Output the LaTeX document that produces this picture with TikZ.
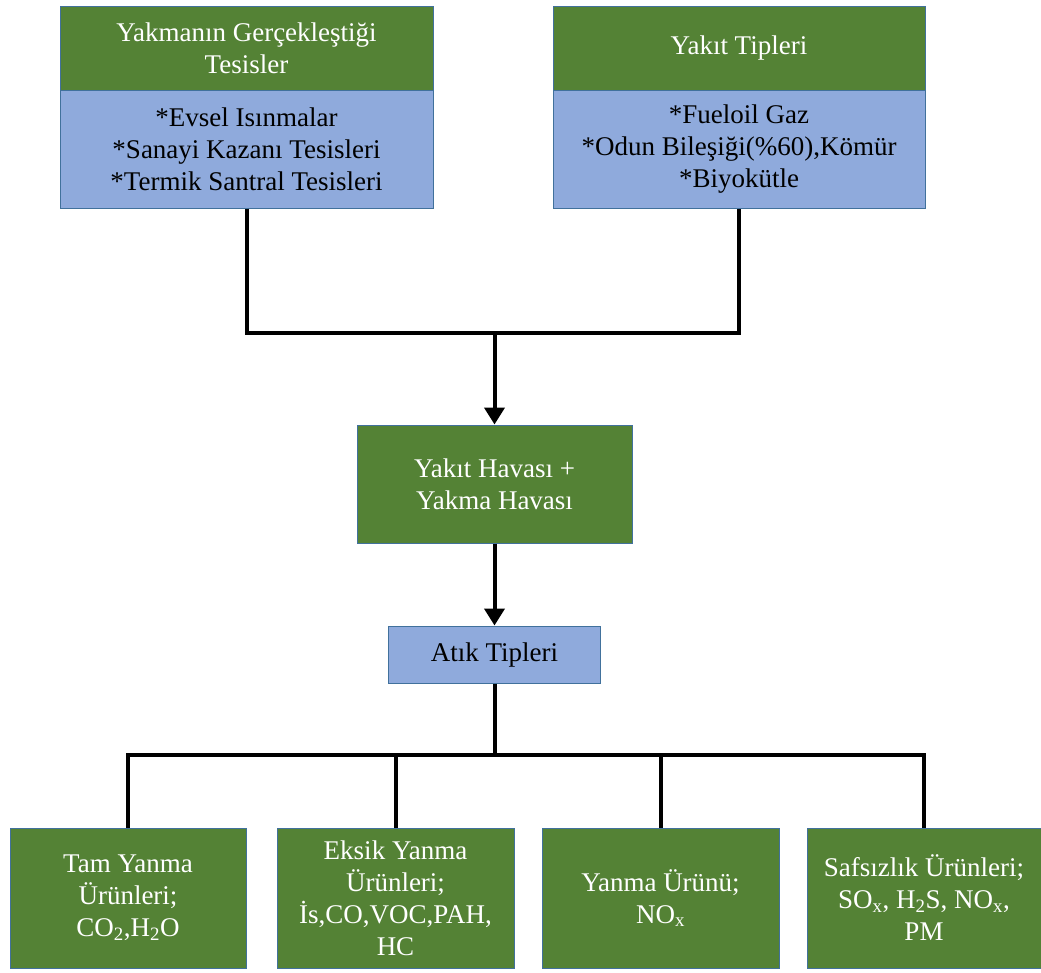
\documentclass[tikz,border=0pt]{standalone}
\usepackage{fontspec}
\setmainfont{Liberation Serif}
\usetikzlibrary{arrows.meta}
\definecolor{boxgreen}{HTML}{548235}
\definecolor{boxblue}{HTML}{8FAADC}
\definecolor{boxedge}{HTML}{41719C}
\tikzset{
  box/.style={draw=boxedge,line width=1pt,align=center,inner sep=0pt,
    font=\fontsize{27}{32}\selectfont},
  greenbox/.style={box,fill=boxgreen,text=white},
  bluebox/.style={box,fill=boxblue,text=black},
  link/.style={line width=4pt},
  arr/.style={link,-{Triangle[width=20pt,length=17pt]}}
}
\begin{document}
\begin{tikzpicture}[x=1pt,y=-1pt]
    \useasboundingbox (0,0) rectangle (1041,972);
    \node[greenbox,minimum width=373pt,minimum height=84pt] (tesisHead) at (246.5,48) {Yakmanın Gerçekleştiği\\Tesisler};
    \node[bluebox,minimum width=373pt,minimum height=118pt] (tesisList) at (246.5,149) {*Evsel Isınmalar\\*Sanayi Kazanı Tesisleri\\*Termik Santral Tesisleri};
    \node[greenbox,minimum width=372pt,minimum height=84pt] (yakitHead) at (739,48) {Yakıt Tipleri};
    \node[bluebox,minimum width=372pt,minimum height=118pt] (yakitList) at (739,149) {*Fueloil Gaz\\*Odun Bileşiği(\%60),Kömür\\*Biyokütle};
    \node[greenbox,minimum width=275pt,minimum height=118pt] (hava) at (494.5,484) {Yakıt Havası +\\Yakma Havası};
    \node[bluebox,minimum width=212pt,minimum height=57pt] (atik) at (494.5,654.5) {Atık Tipleri};
    \node[greenbox,minimum width=236pt,minimum height=140pt] (tam) at (128,898) {Tam Yanma\\Ürünleri;\\CO\textsubscript{2},H\textsubscript{2}O};
    \node[greenbox,minimum width=237pt,minimum height=140pt] (eksik) at (395.5,898) {Eksik Yanma\\Ürünleri;\\İs,CO,VOC,PAH,\\HC};
    \node[greenbox,minimum width=237pt,minimum height=140pt] (yanma) at (660.5,898) {Yanma Ürünü;\\NO\textsubscript{x}};
    \node[greenbox,minimum width=234pt,minimum height=140pt] (safsiz) at (924,898) {Safsızlık Ürünleri;\\SO\textsubscript{x}, H\textsubscript{2}S, NO\textsubscript{x},\\PM};
    \coordinate (join) at (494.5,333);
    \coordinate (split) at (494.5,755);
    \draw[link] (tesisList.south) |- (join) -| (yakitList.south);
    \draw[arr] (join) -- (hava.north);
    \draw[arr] (hava.south) -- (atik.north);
    \draw[link] (atik.south) -- (split);
    \draw[link] (tam.north) |- (split) -| (safsiz.north);
    \draw[link] (eksik.north) -- (eksik.north |- split);
    \draw[link] (yanma.north) -- (yanma.north |- split);
\end{tikzpicture}
\end{document}
